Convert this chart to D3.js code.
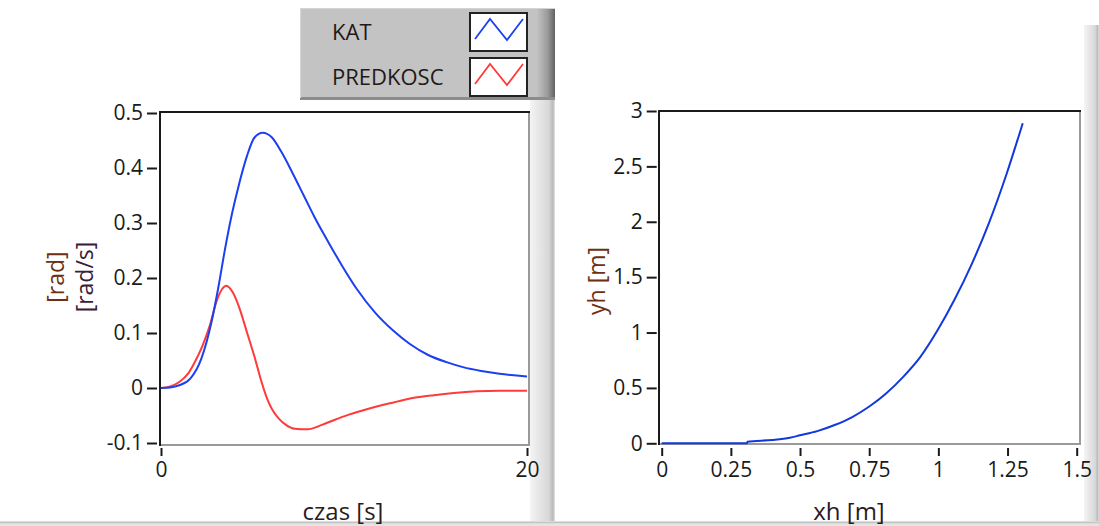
<!DOCTYPE html>
<html><head><meta charset="utf-8">
<script src="https://cdn.jsdelivr.net/npm/d3@7"></script>
<style>
html,body{margin:0;padding:0;background:#fff;}
svg{display:block;font-family:"Open Sans",sans-serif;}
</style></head>
<body>
<svg id="c" width="1099" height="526"></svg>
<script>
// ---- data ----
const legendLabels = ["KAT", "PREDKOSC"];
const seriesColors = ["#1c3ff0", "#ff3a3a"];
const katT = [0,0.5,1.0,1.6,2.2,2.76,3.15,3.5,3.9,4.2,4.7,5.1,5.55,6.05,6.6,7.2,7.8,8.4,9.2,9.9,10.7,11.7,12.7,13.6,14.6,15.6,16.5,17.5,18.5,20];
const katV = [0,0.001,0.005,0.017,0.053,0.12,0.186,0.253,0.32,0.362,0.422,0.455,0.464,0.456,0.428,0.39,0.35,0.31,0.262,0.222,0.18,0.137,0.104,0.08,0.06,0.047,0.038,0.031,0.026,0.021];
const predT = [0,0.5,1.0,1.5,1.8,2.27,2.66,3.05,3.34,3.57,3.92,4.3,4.7,5.09,5.45,5.77,6.06,6.45,6.83,7.3,8.0,8.8,9.4,10.3,11.2,12.1,13.1,14.0,14.9,16.0,17.25,18.5,20];
const predV = [0,0.003,0.011,0.027,0.044,0.077,0.113,0.159,0.18,0.186,0.174,0.144,0.101,0.059,0.016,-0.017,-0.038,-0.056,-0.067,-0.074,-0.075,-0.067,-0.059,-0.048,-0.039,-0.031,-0.023,-0.017,-0.013,-0.009,-0.006,-0.005,-0.005];
const leftYTicks = [-0.1,0,0.1,0.2,0.3,0.4,0.5];
const leftXTicks = [0,20];
const leftYTitle = ["[rad]","[rad/s]"];
const leftXTitle = "czas [s]";
const xhVals = [0,0.2,0.308,0.31,0.4,0.463,0.5,0.5625,0.625,0.687,0.749,0.811,0.873,0.935,0.997,1.059,1.121,1.183,1.245,1.305];
const yhVals = [0,0,0,0.015,0.03,0.05,0.072,0.11,0.165,0.235,0.33,0.45,0.6,0.78,1.02,1.3,1.62,1.99,2.42,2.89];
const rightXTicks = [0,0.25,0.5,0.75,1,1.25,1.5];
const rightYTicks = [0,0.5,1,1.5,2,2.5,3];
const rightXTitle = "xh [m]";
const rightYTitle = "yh [m]";

const svg = d3.select("#c");
const defs = svg.append("defs");
const g1 = defs.append("linearGradient").attr("id","vbar");
g1.append("stop").attr("offset","0").attr("stop-color","#f4f4f4");
g1.append("stop").attr("offset","0.75").attr("stop-color","#d8d8d8");
g1.append("stop").attr("offset","0.92").attr("stop-color","#b8b8b8");
g1.append("stop").attr("offset","1").attr("stop-color","#e8e8e8");
const g2 = defs.append("linearGradient").attr("id","lpanelR");
g2.append("stop").attr("offset","0").attr("stop-color","#c2c2c2");
g2.append("stop").attr("offset","0.6").attr("stop-color","#9a9a9a");
g2.append("stop").attr("offset","1").attr("stop-color","#606060");

// background decorations
svg.append("rect").attr("x",530).attr("y",95).attr("width",25).attr("height",431).attr("fill","url(#vbar)");
svg.append("rect").attr("x",1084).attr("y",25).attr("width",15).attr("height",501).attr("fill","url(#vbar)");
svg.append("rect").attr("x",0).attr("y",521).attr("width",1099).attr("height",5).attr("fill","#e4e4e4");
svg.append("line").attr("x1",0).attr("x2",1099).attr("y1",522.5).attr("y2",522.5).attr("stroke","#c4c4c4").attr("stroke-width",1.5);

// legend panel
const lp = svg.append("g");
lp.append("rect").attr("x",300).attr("y",8).attr("width",255).attr("height",92).attr("fill","#c3c3c3");
lp.append("rect").attr("x",537).attr("y",8).attr("width",18).attr("height",92).attr("fill","url(#lpanelR)");
lp.append("line").attr("x1",300).attr("x2",555).attr("y1",98.5).attr("y2",98.5).attr("stroke","#8c8c8c").attr("stroke-width",3);
lp.append("line").attr("x1",300.5).attr("x2",300.5).attr("y1",8).attr("y2",98).attr("stroke","#d8d8d8").attr("stroke-width",1);
lp.append("line").attr("x1",300).attr("x2",555).attr("y1",8.5).attr("y2",8.5).attr("stroke","#d4d4d4").attr("stroke-width",1);
legendLabels.forEach((lab,i)=>{
  const cy = 32 + i*45;
  lp.append("text").attr("x",332).attr("y",cy).attr("dy","0.36em").attr("font-size",22).attr("fill","#221818").text(lab);
  lp.append("rect").attr("x",470).attr("y",cy-19).attr("width",57).attr("height",38).attr("fill","#fff").attr("stroke","#222").attr("stroke-width",2);
  const zz = [[5,26],[20,6],[37,27],[53,6]].map(p=>[470+p[0], cy-19+p[1]]);
  lp.append("path").attr("d",d3.line()(zz)).attr("fill","none").attr("stroke",seriesColors[i]).attr("stroke-width",1.8);
});

function frame(x0,x1,y0,y1){
  svg.append("rect").attr("x",x0).attr("y",y0).attr("width",x1-x0).attr("height",y1-y0).attr("fill","#fff");
  svg.append("line").attr("x1",x1).attr("x2",x1).attr("y1",y0).attr("y2",y1).attr("stroke","#9a9a9a").attr("stroke-width",2);
  svg.append("line").attr("x1",x0).attr("x2",x1+1).attr("y1",y1).attr("y2",y1).attr("stroke","#9a9a9a").attr("stroke-width",2);
  svg.append("line").attr("x1",x0-1).attr("x2",x1+1).attr("y1",y0).attr("y2",y0).attr("stroke","#1a1a1a").attr("stroke-width",2);
  svg.append("line").attr("x1",x0).attr("x2",x0).attr("y1",y0).attr("y2",y1+1).attr("stroke","#1a1a1a").attr("stroke-width",2);
}
function styleAxis(ax){
  ax.select(".domain").remove();
  ax.selectAll(".tick line").attr("stroke","#1a1a1a").attr("stroke-width",2);
  ax.selectAll(".tick text").attr("font-size",21).attr("fill","#1a1a1a").attr("font-family","Open Sans");
}
const fmt = d => String(d);

// ---- left chart ----
const xL = d3.scaleLinear().domain([0,20]).range([161,527]);
const yL = d3.scaleLinear().domain([-0.1,0.5]).range([443,113]);
frame(160,529,112,445);
const axYL = svg.append("g").attr("transform","translate(157,0)")
  .call(d3.axisLeft(yL).tickValues(leftYTicks).tickSize(10).tickPadding(4).tickFormat(fmt));
styleAxis(axYL);
const axXL = svg.append("g").attr("transform","translate(0,448)")
  .call(d3.axisBottom(xL).tickValues(leftXTicks).tickSize(8).tickPadding(6).tickFormat(fmt));
styleAxis(axXL);
const lineL = d3.line().curve(d3.curveMonotoneX);
const katPts = katT.map((t,i)=>[xL(t), yL(katV[i])]);
const predPts = predT.map((t,i)=>[xL(t), yL(predV[i])]);
svg.append("path").attr("d",lineL(predPts)).attr("fill","none").attr("stroke",seriesColors[1]).attr("stroke-width",2);
svg.append("path").attr("d",lineL(katPts)).attr("fill","none").attr("stroke",seriesColors[0]).attr("stroke-width",2);
svg.append("text").attr("transform","translate(56,277) rotate(-90)").attr("text-anchor","middle").attr("dy","0.36em")
  .attr("font-size",23).attr("fill","#6e2f12").text(leftYTitle[0]);
svg.append("text").attr("transform","translate(85,277) rotate(-90)").attr("text-anchor","middle").attr("dy","0.36em")
  .attr("font-size",23).attr("fill","#3a2038").text(leftYTitle[1]);
svg.append("text").attr("x",343).attr("y",520).attr("text-anchor","middle").attr("font-size",24).attr("fill","#2a1a22").text(leftXTitle);

// ---- right chart ----
const xR = d3.scaleLinear().domain([0,1.5]).range([661.7,1076.7]);
const yR = d3.scaleLinear().domain([0,3]).range([443.3,111]);
frame(659,1080,111,444);
const axYR = svg.append("g").attr("transform","translate(656.7,0)")
  .call(d3.axisLeft(yR).tickValues(rightYTicks).tickSize(10).tickPadding(4).tickFormat(fmt));
styleAxis(axYR);
const axXR = svg.append("g").attr("transform","translate(0,448)")
  .call(d3.axisBottom(xR).tickValues(rightXTicks).tickSize(8).tickPadding(6).tickFormat(fmt));
styleAxis(axXR);
const xyPts = xhVals.map((x,i)=>[xR(x), yR(yhVals[i])]);
svg.append("path").attr("d",d3.line().curve(d3.curveMonotoneX)(xyPts)).attr("fill","none").attr("stroke","#1238dc").attr("stroke-width",2);
svg.append("text").attr("transform","translate(597,281) rotate(-90)").attr("text-anchor","middle").attr("dy","0.36em")
  .attr("font-size",23).attr("fill","#6e2f12").text(rightYTitle);
svg.append("text").attr("x",849).attr("y",520).attr("text-anchor","middle").attr("font-size",24).attr("fill","#2a1a22").text(rightXTitle);
</script>
</body></html>
